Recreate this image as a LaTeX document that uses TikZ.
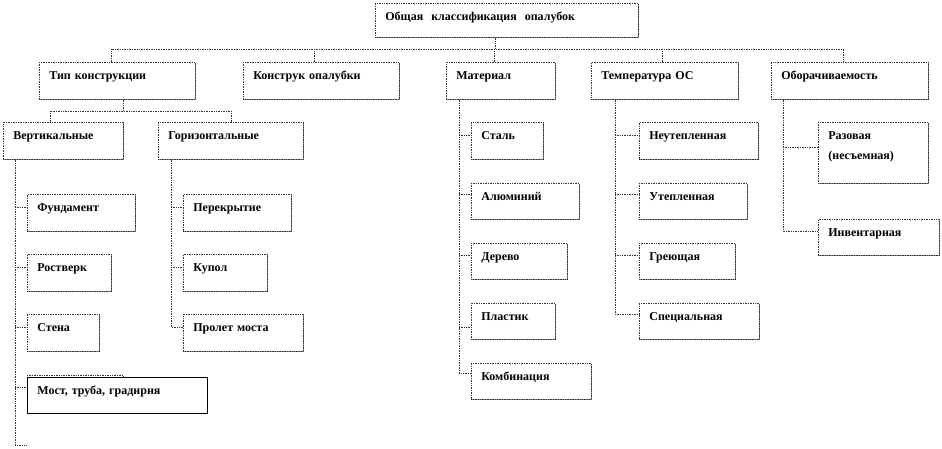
\documentclass[tikz,border=0pt]{standalone}
\usepackage{fontspec}
\setmainfont{Liberation Serif}
\usetikzlibrary{shadows}
\begin{document}
\begin{tikzpicture}[x=1pt,y=-1pt,
  bx/.style={draw=black!80, densely dotted, line width=0.7pt, fill=white,
    anchor=north west, inner xsep=10pt, inner ysep=0pt, align=left,
    text height=17pt, text depth=20pt,
    font=\fontsize{12}{20}\selectfont\bfseries,
    drop shadow={shadow xshift=1pt, shadow yshift=-1pt, fill=black!45, opacity=1}},
  conn/.style={draw=black!80, densely dotted, line width=0.7pt}]
\useasboundingbox[fill=white] (0,0) rectangle (942,448);

% level 0
\node[bx, text width=243pt, text depth=17pt] (top) at (375,3) {Общая\ \ классификация\ \ опалубок};
% level 1
\node[bx, text width=136pt] (tip) at (39,62) {Тип конструкции};
\node[bx, text width=136pt] (konstr) at (243,62) {Конструк опалубки};
\node[bx, text width=89pt] (mat) at (446,62) {Материал};
\node[bx, text width=127pt] (temp) at (591,62) {Температура ОС};
\node[bx, text width=137pt] (obor) at (771,62) {Оборачиваемость};
% level 2
\node[bx, text width=100pt] (vert) at (3,122) {Вертикальные};
\node[bx, text width=125pt] (gor) at (158,122) {Горизонтальные};
% vertical children
\node[bx, text width=88pt] (fund) at (27,194) {Фундамент};
\node[bx, text width=64pt] (rost) at (27,254) {Ростверк};
\node[bx, text width=52pt] (stena) at (27,314) {Стена};
\draw[conn] (27,375) rectangle (123,411);
\node[bx, solid, draw=black, text width=160pt, text depth=19pt] (most) at (27,377) {Мост, труба, градирня};
% horizontal children
\node[bx, text width=88pt] (perek) at (183,194) {Перекрытие};
\node[bx, text width=64pt] (kupol) at (183,254) {Купол};
\node[bx, text width=100pt] (prolet) at (183,314) {Пролет моста};
% material
\node[bx, text width=52pt] (stal) at (471,122) {Сталь};
\node[bx, text width=88pt, text depth=19pt] (alum) at (471,183) {Алюминий};
\node[bx, text width=76pt, text depth=19pt] (derevo) at (471,243) {Дерево};
\node[bx, text width=64pt, text depth=19pt] (plast) at (471,303) {Пластик};
\node[bx, text width=100pt, text depth=19pt] (komb) at (471,363) {Комбинация};
% temperature
\node[bx, text width=99pt] (neut) at (639,122) {Неутепленная};
\node[bx, text width=88pt, text depth=19pt] (utep) at (639,183) {Утепленная};
\node[bx, text width=76pt, text depth=19pt] (grey) at (639,243) {Греющая};
\node[bx, text width=100pt, text depth=19pt] (spec) at (639,303) {Специальная};
% turnover
\node[bx, text width=90pt, text height=17pt, text depth=44pt] (raz) at (818,122) {Разовая\\(несъемная)};
\node[bx, text width=101pt, text depth=19pt] (inv) at (818,219) {Инвентарная};

% connectors level 0-1
\draw[conn] (top.south -| 495,0) -- (495,49);
\draw[conn] (tip.north -| 111,0) -- (111,49) -- (843,49) -- (obor.north -| 843,0);
\draw[conn] (konstr.north -| 314,0) -- (314,49);
\draw[conn] (mat.north -| 494,0) -- (494,49);
\draw[conn] (temp.north -| 662,0) -- (662,49);
% tip -> vert/gor
\draw[conn] (tip.south -| 123,0) -- (123,111);
\draw[conn] (vert.north -| 50,0) -- (50,111) -- (231,111) -- (gor.north -| 231,0);
% vertical spine
\coordinate (vend) at (27,445);
\draw[conn] (vert.south -| 15,0) -- (15,445) -- (vend);
\draw[conn] (15,207) -- (fund.west |- 0,207);
\draw[conn] (15,267) -- (rost.west |- 0,267);
\draw[conn] (15,327) -- (stena.west |- 0,327);
\draw[conn] (15,387) -- (most.west |- 0,387);
% horizontal spine
\draw[conn] (gor.south -| 171,0) -- (171,327) -- (prolet.west |- 0,327);
\draw[conn] (171,207) -- (perek.west |- 0,207);
\draw[conn] (171,267) -- (kupol.west |- 0,267);
% material spine
\draw[conn] (mat.south -| 459,0) -- (459,373) -- (komb.west |- 0,373);
\draw[conn] (459,135) -- (stal.west |- 0,135);
\draw[conn] (459,194) -- (alum.west |- 0,194);
\draw[conn] (459,255) -- (derevo.west |- 0,255);
\draw[conn] (459,327) -- (plast.west |- 0,327);
% temperature spine
\draw[conn] (temp.south -| 615,0) -- (615,314) -- (spec.west |- 0,314);
\draw[conn] (615,135) -- (neut.west |- 0,135);
\draw[conn] (615,194) -- (utep.west |- 0,194);
\draw[conn] (615,255) -- (grey.west |- 0,255);
% turnover spine
\draw[conn] (obor.south -| 783,0) -- (783,231) -- (inv.west |- 0,231);
\draw[conn] (783,147) -- (raz.west |- 0,147);
\end{tikzpicture}
\end{document}
